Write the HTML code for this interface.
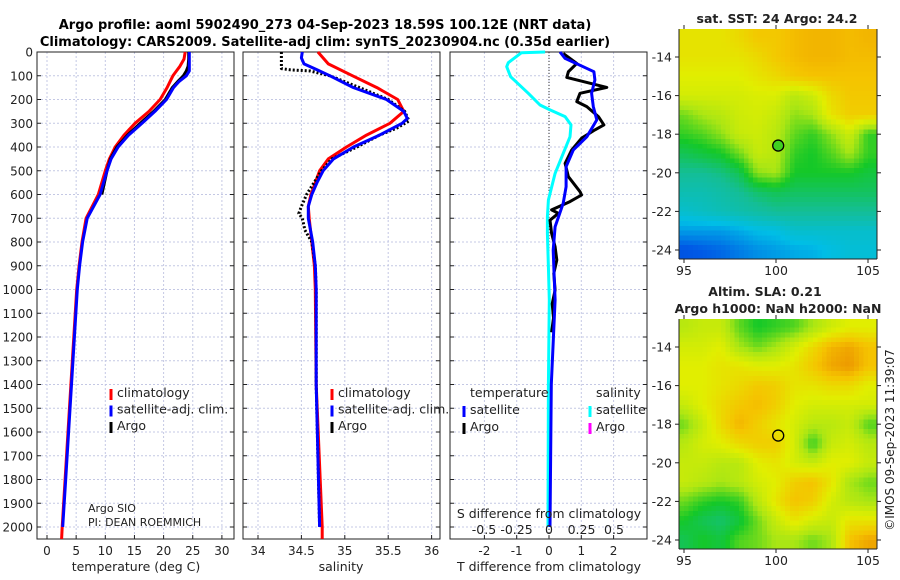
<!DOCTYPE html>
<html><head><meta charset="utf-8">
<style>
html,body{margin:0;padding:0;background:#fff;}
svg{display:block;font-family:"DejaVu Sans","Liberation Sans",sans-serif;}
</style></head>
<body>
<svg id="fig" width="900" height="580" viewBox="0 0 900 580" xmlns="http://www.w3.org/2000/svg">
<text x="325" y="29" text-anchor="middle" font-size="13" font-weight="bold">Argo profile: aoml 5902490_273 04-Sep-2023 18.59S 100.12E (NRT data)</text>
<text x="325" y="46" text-anchor="middle" font-size="13" font-weight="bold">Climatology: CARS2009. Satellite-adj clim: synTS_20230904.nc (0.35d earlier)</text>
<g id="panels"></g>
</svg>
<script>
// ---------- data ----------
const depthTicks = [0,100,200,300,400,500,600,700,800,900,1000,1100,1200,1300,1400,1500,1600,1700,1800,1900,2000];
const tempTicks = [0,5,10,15,20,25,30];
const salTicks = [34,34.5,35,35.5,36];
const salTickLabels = ["34","34.5","35","35.5","36"];
const dTTicks = [-2,-1,0,1,2];
const dSTickLabels = ["-0.5","-0.25","0","0.25","0.5"];
const dSTickVals = [-0.5,-0.25,0,0.25,0.5];

const tDepth = [0,30,60,80,100,125,150,200,250,300,350,400,450,500,600,700,800,900,1000,1200,1400,1600,1800,2000];
const tClim = [23.7,23.5,22.8,22.2,21.6,21.1,20.6,19.4,17.5,15.1,13.2,11.7,10.7,10.0,8.8,6.7,6.0,5.5,5.1,4.6,4.1,3.6,3.1,2.6];
const tSat  = [24.4,24.4,24.4,24.4,23.9,22.6,21.7,20.5,18.5,16.3,14.0,12.2,11.0,10.3,9.1,6.9,6.1,5.6,5.2,4.7,4.2,3.7,3.2,2.7];
const tArgo = [24.3,24.3,24.2,23.9,23.4,22.4,21.5,20.3,18.3,16.0,13.8,12.0,10.9,10.3,9.4,6.9,6.1,5.6,5.2,4.7,4.2,3.7,3.2,2.7];
const tClimExtDepth = [2000,2050];
const tClimExt = [2.6,2.5];

const sClimDepth = [0,50,100,150,200,250,300,350,400,450,500,550,600,650,700,800,900,1000,1400,2000,2050];
const sClim = [34.69,34.81,35.09,35.37,35.61,35.68,35.52,35.25,35.02,34.81,34.71,34.66,34.61,34.58,34.59,34.62,34.65,34.66,34.67,34.74,34.74];
const sSatDepth = [0,25,50,75,100,150,200,250,280,300,350,400,450,500,550,600,650,700,800,900,1000,1400,2000];
const sSat = [34.51,34.50,34.53,34.68,34.83,35.10,35.48,35.68,35.72,35.66,35.40,35.10,34.87,34.75,34.68,34.62,34.58,34.58,34.63,34.66,34.67,34.67,34.71];
const sArgoDepth = [0,70,75,80,100,150,200,250,290,320,350,400,450,500,600,650,680,700,750,800,900,1000,1400,2000];
const sArgo = [34.27,34.27,34.37,34.60,34.83,35.17,35.50,35.69,35.74,35.60,35.40,35.14,34.85,34.73,34.56,34.50,34.47,34.51,34.54,34.62,34.66,34.67,34.67,34.71];

const dCyanDepth = [0,3,45,62,104,174,223,244,272,307,357,427,511,623,694,764,904,1044,1400,2000];
const dCyan = [-0.12,-0.85,-1.26,-1.31,-1.19,-0.64,-0.28,0.03,0.5,0.68,0.65,0.44,0.19,-0.02,-0.05,-0.05,-0.02,0.01,-0.02,-0.03];
const dBlueDepth = [0,27,83,118,174,230,286,357,413,483,567,637,736,834,904,1044,1400,2000];
const dBlue = [0.34,0.5,1.39,1.42,1.32,1.37,1.48,1.17,0.75,0.53,0.53,0.44,0.19,0.13,0.15,0.19,0.07,0.03];
const dArgoDepth = [6,48,83,107,149,174,209,230,272,307,328,363,413,469,525,588,602,630,665,679,708,764,820,876,932,1002,1060,1120,1180];
const dArgo = [0.44,0.86,0.6,0.55,1.79,0.96,0.86,1.17,1.53,1.7,1.42,1.01,0.7,0.5,0.6,0.96,1.01,0.65,0.08,0.29,0.03,0.08,0.19,0.24,0.15,0.19,0.1,0.14,0.08];

const mapLons = [95,96,97,98,99,100,101,102,103,104,105];
const mapLats = [-13,-14,-15,-16,-17,-18,-19,-20,-21,-22,-23,-24];
const sstGrid = [
[0.8,0.8,0.8,0.82,0.85,0.85,0.87,0.88,0.88,0.87,0.88],
[0.8,0.8,0.8,0.8,0.82,0.85,0.87,0.88,0.88,0.87,0.87],
[0.78,0.78,0.78,0.78,0.8,0.82,0.85,0.86,0.86,0.86,0.86],
[0.76,0.76,0.76,0.76,0.77,0.77,0.72,0.75,0.82,0.85,0.85],
[0.66,0.7,0.72,0.75,0.76,0.74,0.68,0.7,0.8,0.84,0.84],
[0.62,0.64,0.68,0.74,0.75,0.72,0.65,0.62,0.68,0.75,0.62],
[0.56,0.58,0.6,0.66,0.74,0.72,0.62,0.6,0.64,0.7,0.62],
[0.5,0.5,0.52,0.56,0.68,0.7,0.6,0.6,0.6,0.6,0.58],
[0.45,0.45,0.47,0.5,0.54,0.56,0.55,0.55,0.55,0.55,0.55],
[0.4,0.42,0.44,0.46,0.48,0.5,0.5,0.5,0.5,0.5,0.5],
[0.3,0.3,0.3,0.32,0.35,0.36,0.4,0.4,0.4,0.4,0.4],
[0.18,0.2,0.22,0.25,0.28,0.3,0.32,0.33,0.36,0.38,0.38]];
const slaGrid = [
[0.72,0.74,0.74,0.65,0.6,0.62,0.64,0.7,0.75,0.78,0.78],
[0.76,0.76,0.78,0.7,0.66,0.7,0.76,0.82,0.88,0.9,0.86],
[0.78,0.78,0.8,0.8,0.78,0.78,0.8,0.85,0.9,0.92,0.86],
[0.78,0.78,0.8,0.82,0.85,0.84,0.8,0.8,0.82,0.82,0.78],
[0.74,0.78,0.82,0.85,0.87,0.84,0.78,0.76,0.76,0.76,0.76],
[0.66,0.74,0.82,0.88,0.84,0.8,0.76,0.72,0.72,0.74,0.64],
[0.72,0.76,0.78,0.82,0.84,0.84,0.76,0.62,0.74,0.76,0.72],
[0.74,0.74,0.72,0.72,0.78,0.8,0.76,0.74,0.78,0.78,0.74],
[0.74,0.72,0.7,0.72,0.76,0.78,0.84,0.86,0.8,0.7,0.66],
[0.66,0.62,0.6,0.62,0.72,0.8,0.86,0.84,0.76,0.72,0.7],
[0.6,0.56,0.54,0.58,0.66,0.74,0.8,0.76,0.74,0.8,0.8],
[0.56,0.6,0.58,0.64,0.66,0.7,0.7,0.66,0.7,0.86,0.9]];
const lonTicks = [95,100,105];
const latTicks = [-14,-16,-18,-20,-22,-24];
const argoLon = [100.12];
const argoLat = [-18.59];

// ---------- drawing ----------
const NS = "http://www.w3.org/2000/svg";
const root = document.getElementById('panels');
function mk(tag, attrs, parent){const e=document.createElementNS(NS,tag);for(const k in attrs)e.setAttribute(k,attrs[k]);(parent||root).appendChild(e);return e;}
const y = d => 52 + d*0.2375;
const Y0=52, Y1=539;
const panels = [
 {x0:37,x1:234,sx:v=>47+v*5.83,ticks:tempTicks,labels:tempTicks.map(String),name:'temperature'},
 {x0:243,x1:440,sx:v=>258+(v-34)*86.8,ticks:salTicks,labels:salTickLabels,name:'salinity'},
 {x0:450,x1:647,sx:v=>549+v*32.3,ticks:dTTicks,labels:dTTicks.map(String),name:'difference'}];

panels.forEach((p,pi)=>{
  const g=mk('g',{});
  
  
  depthTicks.forEach(d=>{
    const l=mk('line',{x1:p.x0,x2:p.x1,y1:y(d),y2:y(d),stroke:'#c4c8e4','stroke-width':1,'stroke-dasharray':'2,2'},g);
    
    
    mk('line',{x1:p.x0,x2:p.x0+4,y1:y(d),y2:y(d),stroke:'#222'},g);
    mk('line',{x1:p.x1-4,x2:p.x1,y1:y(d),y2:y(d),stroke:'#222'},g);
    if(pi===0){
      const t=mk('text',{x:33,y:y(d)+4.5,'text-anchor':'end','font-size':12,fill:'#222'},g);
      t.textContent=d;
      
      
    }
  });
  p.ticks.forEach((v,i)=>{
    const X=p.sx(v);
    const l=mk('line',{x1:X,x2:X,y1:Y0,y2:Y1,stroke:'#c4c8e4','stroke-width':1,'stroke-dasharray':'2,2'},g);
    
    
    mk('line',{x1:X,x2:X,y1:Y1-4,y2:Y1,stroke:'#222'},g);
    const t=mk('text',{x:X,y:555,'text-anchor':'middle','font-size':12,fill:'#222'},g);
    t.textContent=p.labels[i];
    
    
  });
  const r=mk('rect',{x:p.x0,y:Y0,width:p.x1-p.x0,height:Y1-Y0,fill:'none',stroke:'#222','stroke-width':1},g);
  
  
});

function line(depths, vals, sx, color, w, dash, name){
  const pts=depths.map((d,i)=>sx(vals[i]).toFixed(1)+','+y(d).toFixed(1)).join(' ');
  const a={points:pts,fill:'none',stroke:color,'stroke-width':w,'stroke-linejoin':'round'};
  if(dash)a['stroke-dasharray']=dash;
  const e=mk('polyline',a);
  
  
}
const P=panels;
line(tClimExtDepth,tClimExt,P[0].sx,'#f00',3,null,'temp-climatology-tail');
line(tDepth,tClim,P[0].sx,'#f00',3,null,'temp-climatology-line');
line(tDepth.slice(0,15),tArgo.slice(0,15),P[0].sx,'#000',3,null,'temp-argo-line');
line(tDepth,tSat,P[0].sx,'#00f',3,null,'temp-satellite-line');
line(sClimDepth,sClim,P[1].sx,'#f00',3,null,'sal-climatology-line');
line(sArgoDepth,sArgo,P[1].sx,'#000',3,'2,2','sal-argo-line');
line(sSatDepth,sSat,P[1].sx,'#00f',3,null,'sal-satellite-line');
const z=mk('line',{x1:549,x2:549,y1:Y0,y2:Y1,stroke:'#333','stroke-width':1,'stroke-dasharray':'1,2'});


line(dCyanDepth,dCyan,P[2].sx,'#0ff',3,null,'sal-diff-satellite-line');
line(dArgoDepth,dArgo,P[2].sx,'#000',3,null,'temp-diff-argo-line');
line(dBlueDepth,dBlue,P[2].sx,'#00f',3,null,'temp-diff-satellite-line');

function txt(x,yy,s,size,name,extra){
  const t=mk('text',Object.assign({x:x,y:yy,'font-size':size,fill:'#222'},extra||{}));
  t.textContent=s;
  
  
  return t;
}
function mark(x,yy,c,name){
  const r=mk('rect',{x:x-1.5,y:yy-7,width:3,height:11,fill:c});
  
  
}
[[111,'climatology','#f00'],[111,'satellite-adj. clim.','#00f'],[111,'Argo','#000']].forEach((e,i)=>{
  mark(e[0],396+i*16.5,e[2],'legend-marker');txt(117,397+i*16.5,e[1],12.5,'legend-entry');
  mark(e[0]+221,396+i*16.5,e[2],'legend-marker');txt(338,397+i*16.5,e[1],12.5,'legend-entry');
});
txt(470,397,'temperature',12.5,'legend-header-temperature');
txt(596,397,'salinity',12.5,'legend-header-salinity');
mark(464,413,'#00f','legend-marker');txt(470,414,'satellite',12.5,'legend-entry');
mark(464,430,'#000','legend-marker');txt(470,431,'Argo',12.5,'legend-entry');
mark(590,413,'#0ff','legend-marker');txt(596,414,'satellite',12.5,'legend-entry');
mark(590,430,'#f0f','legend-marker');txt(596,431,'Argo',12.5,'legend-entry');
txt(88,512,'Argo SIO',11,'float-owner-label');
txt(88,526,'PI: DEAN ROEMMICH',11,'pi-label');
txt(549,518,'S difference from climatology',12.5,'s-diff-axis-title',{'text-anchor':'middle'});
dSTickVals.forEach((v,i)=>txt(549+v*130,534,dSTickLabels[i],12.5,'s-diff-tick-label',{'text-anchor':'middle'}));
txt(136,571,'temperature (deg C)',12.5,'x-axis-title-temperature',{'text-anchor':'middle'});
txt(341,571,'salinity',12.5,'x-axis-title-salinity',{'text-anchor':'middle'});
txt(549,571,'T difference from climatology',12.5,'x-axis-title-t-diff',{'text-anchor':'middle'});

// ---------- maps ----------
function cmap(v){
  const s=[[0,[0,32,190]],[0.2,[0,90,230]],[0.35,[0,190,230]],[0.5,[20,190,150]],[0.6,[20,200,40]],[0.7,[170,230,20]],[0.78,[225,238,0]],[0.86,[245,195,0]],[0.93,[235,145,0]],[1,[210,95,0]]];
  for(let i=1;i<s.length;i++){if(v<=s[i][0]){const f=(v-s[i-1][0])/(s[i][0]-s[i-1][0]);const c=s[i-1][1].map((a,k)=>Math.round(a+(s[i][1][k]-a)*f));return 'rgb('+c+')';}}
  return 'rgb('+s[s.length-1][1]+')';
}
function sample(grid,fi,fj){
  fi=Math.max(0,Math.min(grid[0].length-1,fi));fj=Math.max(0,Math.min(grid.length-1,fj));
  const i0=Math.floor(fi),j0=Math.floor(fj),i1=Math.min(i0+1,grid[0].length-1),j1=Math.min(j0+1,grid.length-1);
  const a=fi-i0,b=fj-j0;
  return grid[j0][i0]*(1-a)*(1-b)+grid[j0][i1]*a*(1-b)+grid[j1][i0]*(1-a)*b+grid[j1][i1]*a*b;
}
function drawMap(top, grid, nm, circleFill){
  const L=679,R=877,T=top,B=top+230;
  const mx=lon=>684+(lon-95)*18.4;
  const my=lat=>T+28+(-14-lat)*19.3;
  const g=mk('g',{});
  
  
  const cid='clip'+top;
  const cp=mk('clipPath',{id:cid},g);mk('rect',{x:L,y:T,width:R-L,height:B-T},cp);
  const cg=mk('g',{'clip-path':'url(#'+cid+')','shape-rendering':'crispEdges'},g);
  const sub=4;
  for(let j=0;j<grid.length*sub;j++){
    for(let i=0;i<grid[0].length*sub;i++){
      const lon=mapLons[0]-0.5+(i+0.5)/sub, lat=mapLats[0]+0.5-(j+0.5)/sub;
      const v=sample(grid,lon-mapLons[0],mapLats[0]-lat);
      const r=mk('rect',{x:mx(lon-0.5/sub).toFixed(1),y:my(lat+0.5/sub).toFixed(1),width:(18.4/sub+0.6).toFixed(1),height:(19.3/sub+0.6).toFixed(1),fill:cmap(v)},cg);
      
      
    }
  }
  const c=mk('circle',{cx:mx(argoLon[0]),cy:my(argoLat[0]),r:5.5,fill:circleFill,stroke:'#000','stroke-width':1.3},g);
  
  
  lonTicks.forEach(v=>{
    mk('line',{x1:mx(v),x2:mx(v),y1:B,y2:B+4,stroke:'#222'},g);
    mk('line',{x1:mx(v),x2:mx(v),y1:T-4,y2:T,stroke:'#222'},g);
    txt(mx(v),B+16,String(v),12.5,'lon-tick-label',{'text-anchor':'middle'});
  });
  latTicks.forEach(v=>{
    mk('line',{x1:L-4,x2:L,y1:my(v),y2:my(v),stroke:'#222'},g);
    mk('line',{x1:R,x2:R+4,y1:my(v),y2:my(v),stroke:'#222'},g);
    txt(672,my(v)+4.5,String(v),12.5,'lat-tick-label',{'text-anchor':'end'});
  });
  mk('line',{x1:L,x2:L,y1:T,y2:B,stroke:'#222'},g);
  mk('line',{x1:L,x2:R,y1:B,y2:B,stroke:'#222'},g);
  mk('line',{x1:R,x2:R,y1:T,y2:B,stroke:'#222'},g);
}
drawMap(29, sstGrid, 'sst-map', '#40d020');
drawMap(319, slaGrid, 'sla-map', 'none');
txt(777,23,'sat. SST: 24 Argo: 24.2',12.5,'sst-map-title',{'text-anchor':'middle','font-weight':'bold'});
txt(765,296,'Altim. SLA: 0.21',12.5,'sla-map-title',{'text-anchor':'middle','font-weight':'bold'});
txt(778,313,'Argo h1000: NaN h2000: NaN',12.5,'sla-map-subtitle',{'text-anchor':'middle','font-weight':'bold'});
txt(0,0,'\u00a9IMOS 09-Sep-2023 11:39:07',12,'timestamp-label',{'text-anchor':'middle',transform:'translate(894,440) rotate(-90)'});
</script>
</body></html>
